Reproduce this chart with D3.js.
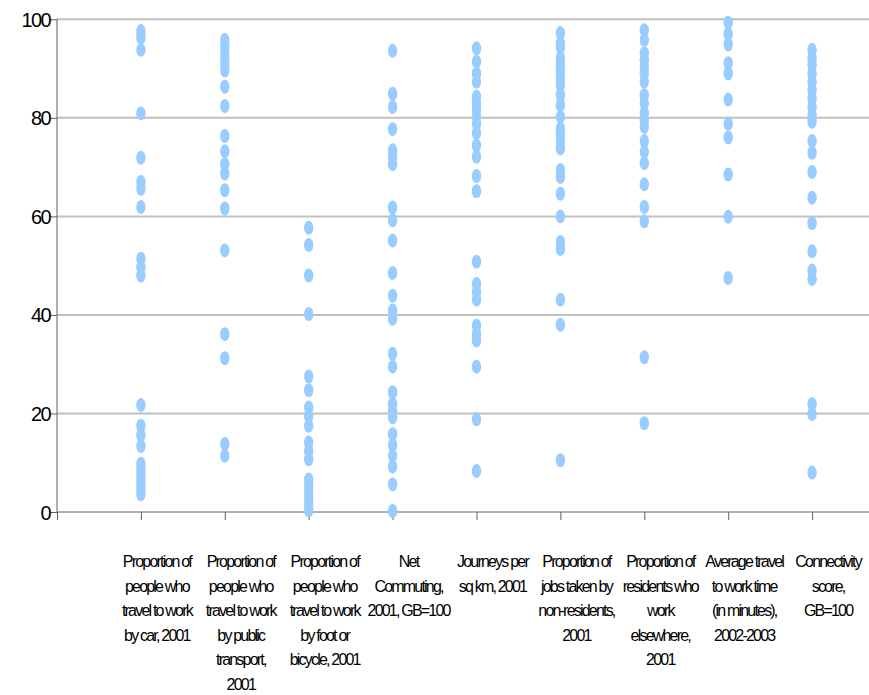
<!DOCTYPE html>
<html>
<head>
<meta charset="utf-8">
<script src="https://cdn.jsdelivr.net/npm/d3@7"></script>
<style>
  html, body { margin: 0; padding: 0; background: #fff; }
  svg { display: block; }
</style>
</head>
<body>
<svg id="chart" width="869" height="695"></svg>
<script>
const categories = [
  "Proportion of\npeople who\ntravel to work\nby car, 2001",
  "Proportion of\npeople who\ntravel to work\nby public\ntransport,\n2001",
  "Proportion of\npeople who\ntravel to work\nby foot or\nbicycle, 2001",
  "Net\nCommuting,\n2001, GB=100",
  "Journeys per\nsq km, 2001",
  "Proportion of\njobs taken by\nnon-residents,\n2001",
  "Proportion of\nresidents who\nwork\nelsewhere,\n2001",
  "Average travel\nto work time\n(in minutes),\n2002-2003",
  "Connectivity\nscore,\nGB=100"
];

const carValues = [97.6, 96.3, 93.8, 80.9, 71.9, 67.0, 65.6, 61.9, 51.4, 49.7, 48.0, 21.7, 17.5, 15.6, 13.4, 9.8, 8.8, 7.6, 6.6, 5.5, 4.5, 3.6];
const publicTransportValues = [95.8, 94.6, 93.4, 92.2, 91.0, 89.6, 86.3, 82.4, 76.3, 73.2, 70.6, 68.7, 65.3, 61.6, 53.1, 36.1, 31.2, 13.8, 11.4];
const footBicycleValues = [57.7, 54.2, 48.0, 40.2, 27.5, 24.7, 21.2, 19.5, 17.5, 14.1, 12.4, 10.7, 6.6, 5.4, 4.2, 2.9, 1.6, 0.3];
const netCommutingValues = [93.6, 84.9, 82.2, 77.7, 73.4, 72.1, 70.6, 61.8, 59.2, 55.1, 48.5, 43.9, 40.9, 39.2, 32.1, 29.5, 24.3, 21.9, 20.5, 19.2, 15.8, 13.6, 11.4, 9.2, 5.6, 0.2];
const journeysValues = [94.1, 91.4, 89.0, 87.3, 84.3, 82.9, 81.6, 80.2, 78.8, 76.9, 74.4, 72.1, 68.2, 65.1, 50.8, 46.3, 44.6, 43.1, 37.8, 36.1, 34.8, 29.5, 18.8, 8.3];
const jobsNonResidentsValues = [97.2, 95.1, 94.3, 92.1, 90.7, 89.4, 88.0, 86.6, 84.6, 82.6, 80.2, 77.8, 76.5, 75.1, 73.8, 69.4, 68.0, 64.6, 60.0, 54.8, 53.4, 43.1, 38.0, 10.5];
const residentsElsewhereValues = [97.8, 95.8, 93.1, 91.7, 90.4, 89.0, 87.3, 84.6, 82.9, 80.9, 79.5, 78.2, 75.3, 73.1, 70.8, 66.5, 61.9, 59.0, 31.4, 18.0];
const travelTimeValues = [99.3, 97.0, 94.9, 91.1, 89.0, 83.7, 78.8, 76.0, 68.5, 59.9, 47.5];
const connectivityValues = [93.8, 92.1, 90.7, 89.0, 87.3, 85.6, 83.9, 82.2, 80.5, 79.2, 75.3, 72.9, 69.0, 63.8, 58.6, 52.9, 49.0, 47.3, 21.9, 19.9, 8.0];

const yTicks = [0, 20, 40, 60, 80, 100];

const seriesValues = [carValues, publicTransportValues, footBicycleValues, netCommutingValues,
  journeysValues, jobsNonResidentsValues, residentsElsewhereValues, travelTimeValues, connectivityValues];

const svg = d3.select("#chart");
const W = 869;

const x = d3.scaleLinear().domain([0, 10]).range([57, 896]);
const y = d3.scaleLinear().domain([0, 100]).range([512, 19.3]);

// gridlines
svg.append("g")
  .selectAll("line")
  .data(yTicks.filter(d => d > 0))
  .join("line")
  .attr("x1", x(0)).attr("x2", W)
  .attr("y1", d => y(d)).attr("y2", d => y(d))
  .attr("stroke", "#c0c0c0").attr("stroke-width", 2);

// y axis
const yAxis = d3.axisLeft(y).tickValues(yTicks).tickSize(7).tickFormat(d3.format("d"));
const gy = svg.append("g").attr("transform", `translate(${x(0)},0)`).call(yAxis);
gy.select(".domain").attr("stroke", "#606060").attr("d", `M0,${y(0)}V${y(100)}`);
gy.selectAll(".tick line").attr("stroke", "#606060");
gy.selectAll(".tick text")
  .attr("x", -7)
  .attr("dy", "0.35em")
  .style("font-family", "'Liberation Sans', Arial, sans-serif")
  .style("font-size", "20px")
  .style("letter-spacing", "-1.6px")
  .attr("fill", "#000");

// x axis
const xTickVals = d3.range(0, 10);
const xAxis = d3.axisBottom(x).tickValues(xTickVals).tickSize(8).tickFormat("");
const gx = svg.append("g").attr("transform", `translate(0,${y(0)})`).call(xAxis);
gx.select(".domain").attr("stroke", "#606060").attr("d", `M${x(0)},0H${W}`);
gx.selectAll(".tick line").attr("stroke", "#606060");

// category labels (offset to the right of each category, as in the source)
const labelOffset = 16;
const labels = svg.append("g")
  .style("font-family", "'Liberation Sans', Arial, sans-serif")
  .style("font-size", "16px")
  .style("letter-spacing", "-1.8px")
  .attr("fill", "#000");

categories.forEach((c, i) => {
  const cx = x(i + 1) + labelOffset;
  const t = labels.append("text")
    .attr("x", cx)
    .attr("y", 567)
    .attr("text-anchor", "middle");
  c.split("\n").forEach((line, j) => {
    t.append("tspan")
      .attr("x", cx)
      .attr("dy", j === 0 ? 0 : 24.6)
      .text(line);
  });
});

// points
const pts = [];
seriesValues.forEach((vals, i) => vals.forEach(v => pts.push({ i, v })));
svg.append("g")
  .selectAll("ellipse")
  .data(pts)
  .join("ellipse")
  .attr("cx", d => x(d.i + 1))
  .attr("cy", d => y(d.v))
  .attr("rx", 4.7)
  .attr("ry", 7)
  .attr("fill", "#99ccff");
</script>
</body>
</html>
